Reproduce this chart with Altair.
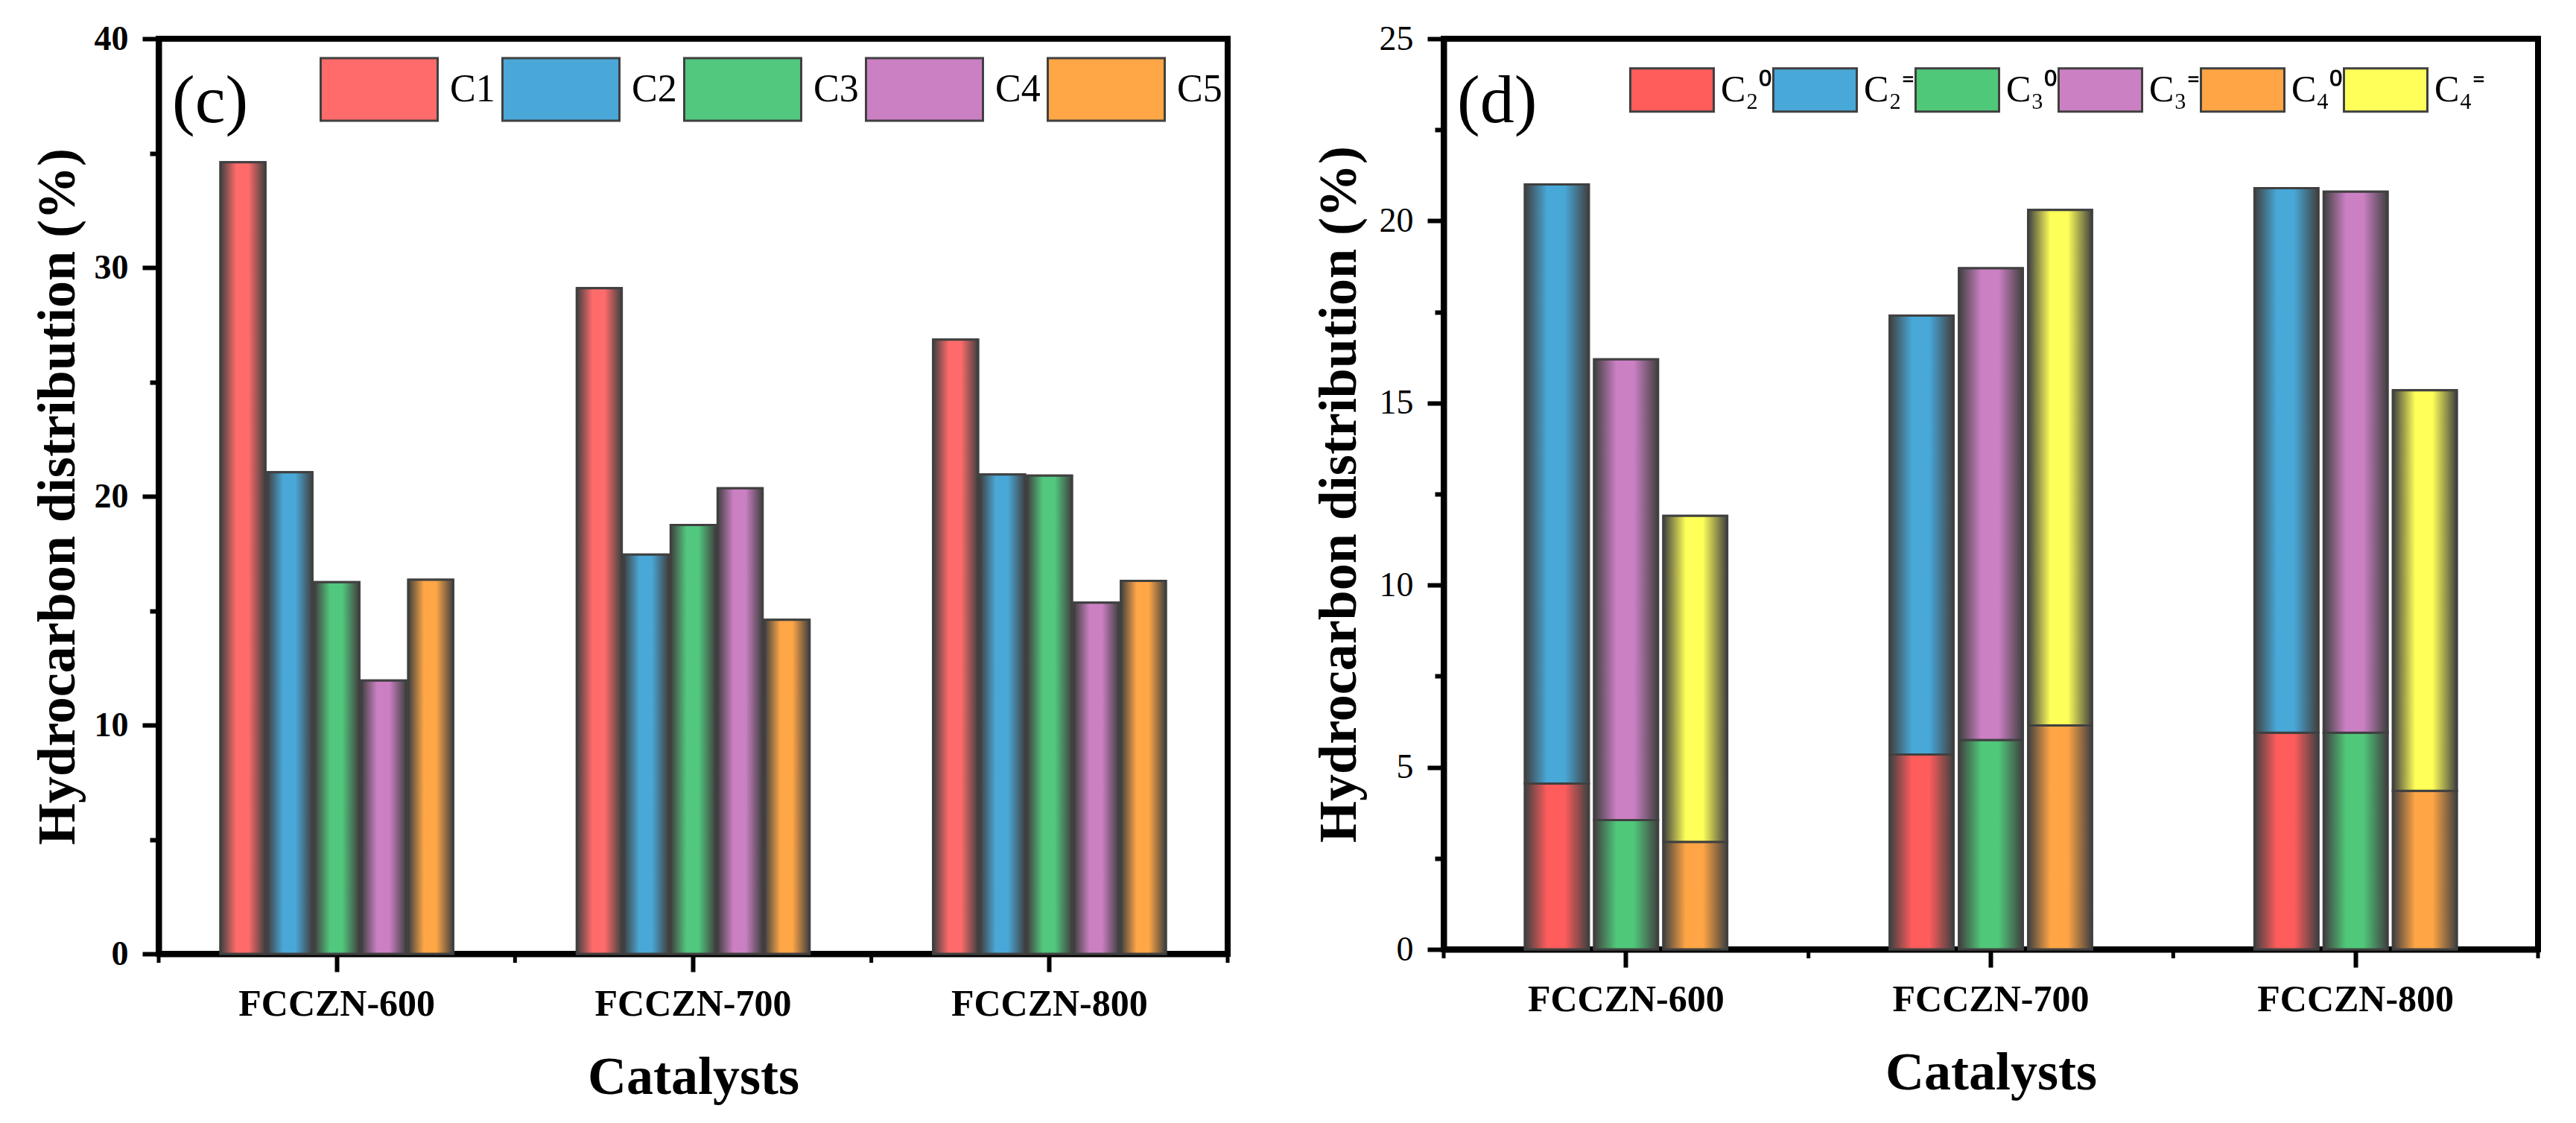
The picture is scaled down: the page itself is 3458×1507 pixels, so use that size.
import altair as alt
import pandas as pd

catalysts = ["FCCZN-600", "FCCZN-700", "FCCZN-800"]

# ---- panel (c): hydrocarbon distribution by carbon number ----
c_series = ["C1", "C2", "C3", "C4", "C5"]
c1 = [34.6, 29.1, 26.85]
c2 = [21.05, 17.45, 20.95]
c3 = [16.25, 18.75, 20.9]
c4 = [11.95, 20.35, 15.35]
c5 = [16.35, 14.6, 16.3]
c_colors = ["#FF6B6B", "#4AA8D8", "#52C77E", "#CC80C4", "#FFA646"]

# ---- panel (d): paraffin / olefin split ----
d_groups = ["C2", "C3", "C4"]
d_series = ["C₂⁰", "C₂⁼", "C₃⁰", "C₃⁼", "C₄⁰", "C₄⁼"]
c2_par = [4.55, 5.35, 5.95]
c2_ole = [16.45, 12.05, 14.95]
c3_par = [3.55, 5.75, 5.95]
c3_ole = [12.65, 12.95, 14.85]
c4_par = [2.95, 6.15, 4.35]
c4_ole = [8.95, 14.15, 11.0]
d_colors = ["#FF5C5C", "#48A8D8", "#50C87A", "#CC80C4", "#FFA545", "#FFFF5A"]

c_yticks = [0, 5, 10, 15, 20, 25, 30, 35, 40]
d_yticks = [0, 2.5, 5, 7.5, 10, 12.5, 15, 17.5, 20, 22.5, 25]

FONT = "Liberation Serif"
EDGE = "#404040"

WC, HC = 1435, 1228
WD, HD = 1469, 1222

# ---- tables ----
c_vals = [c1, c2, c3, c4, c5]
df_c = pd.DataFrame(
    [{"catalyst": cat, "series": s, "value": vals[i]}
     for s, vals in zip(c_series, c_vals) for i, cat in enumerate(catalysts)]
)

d_vals = [c2_par, c2_ole, c3_par, c3_ole, c4_par, c4_ole]
rows = []
for k, (s, vals) in enumerate(zip(d_series, d_vals)):
    for i, cat in enumerate(catalysts):
        rows.append({"catalyst": cat, "group": d_groups[k // 2], "series": s,
                     "order": k % 2, "value": vals[i]})
df_d = pd.DataFrame(rows)
df_cats = pd.DataFrame({"catalyst": catalysts})


def grad(col):
    return alt.Gradient(
        gradient="linear",
        stops=[
            alt.GradientStop(color=EDGE, offset=0),
            alt.GradientStop(color=col, offset=0.35),
            alt.GradientStop(color=col, offset=0.62),
            alt.GradientStop(color=EDGE, offset=1),
        ],
        x1=0, x2=1, y1=0, y2=0,
    )


def xaxis():
    return alt.Axis(
        title="Catalysts", labelAngle=0, labelFont=FONT, labelFontSize=50,
        labelFontWeight="bold", labelPadding=18, tickSize=24, tickWidth=6,
        labelLimit=800,
        titleFont=FONT, titleFontSize=72, titleFontWeight="bold", titlePadding=38,
        labelColor="black", titleColor="black",
    )


def yaxis(ticks, major, bold, title_pad):
    return alt.Axis(
        title="Hydrocarbon distribution (%)", values=ticks,
        labelExpr=f"datum.value % {major} === 0 ? datum.label : ''",
        tickSize={"condition": {"test": f"datum.value % {major} !== 0", "value": 12}, "value": 22},
        tickWidth=6, labelFont=FONT, labelFontSize=46,
        labelFontWeight="bold" if bold else "normal", labelPadding=19,
        titleFont=FONT, titleFontSize=72, titleFontWeight="bold", titlePadding=title_pad,
        labelColor="black", titleColor="black", grid=False,
    )


def legend(x, y, ncol, size, ratio, fs, offset, colpad):
    return alt.Legend(
        title=None, orient="none", legendX=x, legendY=y, direction="horizontal",
        columns=ncol, symbolType=f"M-1,-{ratio}H1V{ratio}H-1Z", symbolSize=size,
        symbolStrokeColor=EDGE, symbolStrokeWidth=3, symbolOpacity=1,
        labelFont=FONT, labelFontSize=fs, labelColor="black", labelOffset=offset,
        columnPadding=colpad, padding=0, labelLimit=400,
    )


def boundary_ticks(xs, W, H):
    t1 = alt.Chart(df_cats).mark_rule(color="black", strokeWidth=5).encode(
        x=alt.X("catalyst:N", bandPosition=0, scale=xs, sort=catalysts, axis=xaxis()),
        y=alt.value(H), y2=alt.value(H + 12),
    )
    t2 = alt.Chart(df_cats.head(1)).mark_rule(color="black", strokeWidth=5).encode(
        x=alt.value(W), y=alt.value(H), y2=alt.value(H + 12),
    )
    return [t1, t2]


def panel_label(txt):
    return alt.Chart(pd.DataFrame({"label": [txt]})).mark_text(
        align="left", baseline="alphabetic", font=FONT, fontSize=92, color="black"
    ).encode(x=alt.value(18), y=alt.value(112), text="label:N")


# side slots (unused) keep each bar group narrower than its category band
c_slots = ["_l"] + c_series + ["_r"]
d_slots = ["_l"] + d_groups + ["_r"]

# ---- panel (c) ----
xs_c = alt.Scale(domain=catalysts, paddingInner=0, paddingOuter=0)
xo_c = alt.Scale(domain=c_slots, paddingInner=0.044, paddingOuter=0.317)
ys_c = alt.Scale(domain=[0, 40], nice=False)
yax_c = yaxis(c_yticks, 10, True, 12)

base_c = alt.Chart(df_c).mark_bar(stroke=EDGE, strokeWidth=3).encode(
    x=alt.X("catalyst:N", scale=xs_c, sort=catalysts, axis=xaxis()),
    xOffset=alt.XOffset("series:N", scale=xo_c),
    y=alt.Y("value:Q", scale=ys_c, axis=yax_c),
    color=alt.Color("series:N", sort=c_series,
                    scale=alt.Scale(domain=c_series, range=c_colors),
                    legend=legend(216, -12, 5, 24649, 0.535, 52, 15, 3)),
)
layers_c = [base_c]
for s, col in zip(c_series, c_colors):
    layers_c.append(
        alt.Chart(df_c).transform_filter(alt.datum.series == s)
        .mark_bar(fill=grad(col), stroke=EDGE, strokeWidth=3)
        .encode(
            x=alt.X("catalyst:N", scale=xs_c, sort=catalysts, axis=xaxis()),
            xOffset=alt.XOffset("series:N", scale=xo_c),
            y=alt.Y("value:Q", scale=ys_c, axis=yax_c),
        )
    )
layers_c += boundary_ticks(xs_c, WC, HC)
layers_c.append(panel_label("(c)"))
chart_c = alt.layer(*layers_c).properties(width=WC, height=HC)

# ---- panel (d) ----
xs_d = alt.Scale(domain=catalysts, paddingInner=0, paddingOuter=0)
xo_d = alt.Scale(domain=d_slots, paddingInner=0.078, paddingOuter=0.174)
ys_d = alt.Scale(domain=[0, 25], nice=False)
yax_d = yaxis(d_yticks, 5, False, 17)


def stacked(chart):
    return chart.transform_stack(
        stack="value", as_=["y0", "y1"], groupby=["catalyst", "group"],
        sort=[alt.SortField("order", order="ascending")],
    )


base_d = stacked(alt.Chart(df_d)).mark_bar(stroke=EDGE, strokeWidth=3).encode(
    x=alt.X("catalyst:N", scale=xs_d, sort=catalysts, axis=xaxis()),
    xOffset=alt.XOffset("group:N", scale=xo_d),
    y=alt.Y("y0:Q", scale=ys_d, axis=yax_d),
    y2="y1:Q",
    color=alt.Color("series:N", sort=d_series,
                    scale=alt.Scale(domain=d_series, range=d_colors),
                    legend=legend(249, 11, 6, 12544, 0.518, 50, 8, -8)),
)
layers_d = [base_d]
for s, col in zip(d_series, d_colors):
    layers_d.append(
        stacked(alt.Chart(df_d)).transform_filter(alt.datum.series == s)
        .mark_bar(fill=grad(col), stroke=EDGE, strokeWidth=3)
        .encode(
            x=alt.X("catalyst:N", scale=xs_d, sort=catalysts, axis=xaxis()),
            xOffset=alt.XOffset("group:N", scale=xo_d),
            y=alt.Y("y0:Q", scale=ys_d, axis=yax_d),
            y2="y1:Q",
        )
    )
layers_d += boundary_ticks(xs_d, WD, HD)
layers_d.append(panel_label("(d)"))
chart_d = alt.layer(*layers_d).properties(width=WD, height=HD)

chart = (
    alt.hconcat(chart_c, chart_d, spacing=102)
    .resolve_scale(color="independent", x="independent", y="independent",
                   xOffset="independent")
    .resolve_legend(color="independent")
    .properties(padding={"left": 29, "top": 17, "right": 5, "bottom": 5})
    .configure_view(stroke="black", strokeWidth=8)
    .configure_axis(domainColor="black", domainWidth=8, tickColor="black", grid=False)
)

chart.save("out.html", embed_options={"renderer": "svg", "actions": False})
